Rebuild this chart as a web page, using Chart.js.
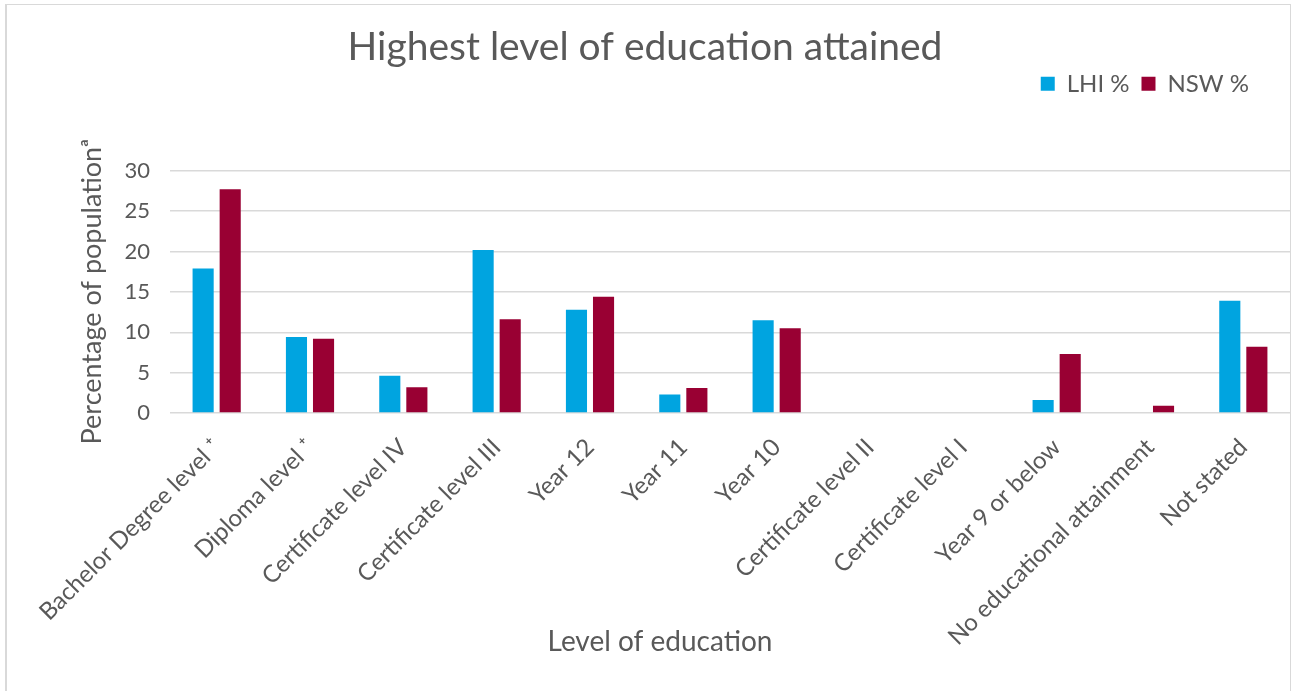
<!DOCTYPE html>
<html><head><meta charset="utf-8">
<script src="https://cdn.jsdelivr.net/npm/chart.js@4/dist/chart.umd.min.js"></script>
<style>
html,body{margin:0;padding:0;background:#fff;overflow:hidden;}
#frame{position:absolute;left:5px;top:4px;width:1286px;height:700px;border:1px solid #d9d9d9;border-left-width:2px;box-sizing:border-box;}
#wrap{position:absolute;left:0;top:0;width:1292px;height:691px;}
</style></head><body>
<div id="frame"></div>
<div id="wrap"><canvas id="c" width="1292" height="691"></canvas></div>
<script>
const categories = ["Bachelor Degree level \u207A", "Diploma level \u207A", "Certificate level IV", "Certificate level III", "Year 12", "Year 11", "Year 10", "Certificate level II", "Certificate level I", "Year 9 or below", "No educational attainment", "Not stated"];
const lhiValues = [17.9, 9.4, 4.6, 20.2, 12.8, 2.3, 11.5, 0, 0, 1.6, 0, 13.9];
const nswValues = [27.7, 9.2, 3.2, 11.6, 14.4, 3.1, 10.5, 0.1, 0, 7.3, 0.9, 8.2];
const yTicks = [0, 5, 10, 15, 20, 25, 30];
const seriesNames = ["LHI %", "NSW %"];
const chartTitle = "Highest level of education attained";
const xTitle = "Level of education";
const yTitle = "Percentage of population\u1D43";

const textColor = '#595959';
Chart.defaults.font.family = 'Lato, "Open Sans", sans-serif';
Chart.defaults.color = textColor;

const legendMargin = {
  id: 'legendMargin',
  beforeInit(chart) {
    const origFit = chart.legend.fit;
    chart.legend.fit = function () {
      origFit.bind(chart.legend)();
      this.height += 65;
    };
  },
  afterLayout(chart) {
    chart.legend.right -= 29;
  }
};
const xTitlePlugin = {
  id: 'xTitlePlugin',
  afterDraw(chart) {
    const ctx = chart.ctx;
    ctx.save();
    ctx.font = '28px Lato, "Open Sans", sans-serif';
    ctx.fillStyle = textColor;
    ctx.textAlign = 'center';
    ctx.textBaseline = 'middle';
    ctx.fillText(xTitle, 660, 642);
    ctx.restore();
  }
};

new Chart(document.getElementById('c'), {
  type: 'bar',
  data: {
    labels: categories,
    datasets: [
      { label: seriesNames[0], data: lhiValues, backgroundColor: '#00A4E0', categoryPercentage: 0.58, barPercentage: 0.78 },
      { label: seriesNames[1], data: nswValues, backgroundColor: '#990033', categoryPercentage: 0.58, barPercentage: 0.78 }
    ]
  },
  plugins: [legendMargin, xTitlePlugin],
  options: {
    responsive: false,
    animation: false,
    layout: { padding: { left: 0, right: 2, top: 0, bottom: 0 } },
    plugins: {
      title: { display: true, text: chartTitle, color: textColor, font: { size: 39, weight: 'normal' }, padding: { top: 24, bottom: -11 } },
      legend: { position: 'top', align: 'end', labels: { boxWidth: 14, boxHeight: 14, padding: 12, color: textColor, font: { size: 24 } } },
      tooltip: { enabled: false }
    },
    scales: {
      x: {
        grid: { display: false },
        border: { display: false },
        ticks: { maxRotation: 45, minRotation: 45, padding: 12, color: textColor, font: { size: 24 } },
        afterFit(scale) { scale.height = 278; }
      },
      y: {
        min: 0, max: 30,
        afterBuildTicks(scale) { scale.ticks = yTicks.map(v => ({ value: v })); },
        grid: { color: '#d9d9d9', lineWidth: 1.5, drawTicks: false },
        border: { display: false },
        ticks: { padding: 20, color: textColor, font: { size: 22 } },
        title: { display: true, text: yTitle, color: textColor, font: { size: 27 }, padding: { top: 76, bottom: 0 } },
        afterFit(scale) { scale.width = 170; }
      }
    }
  }
});
</script>
</body></html>
